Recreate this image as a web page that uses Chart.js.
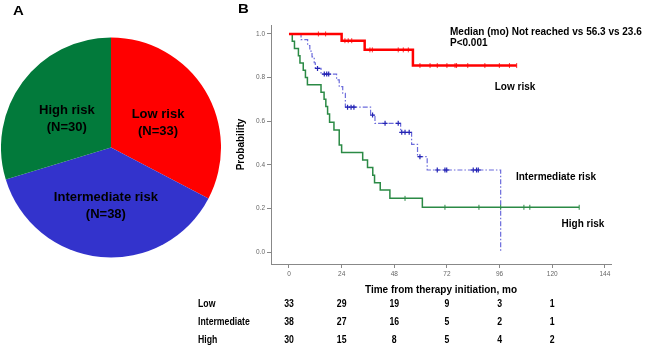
<!DOCTYPE html>
<html>
<head>
<meta charset="utf-8">
<script src="https://cdn.jsdelivr.net/npm/chart.js@4.4.0/dist/chart.umd.min.js"></script>
<style>
  html, body { margin: 0; padding: 0; background: #fff; }
  #wrap { position: relative; width: 650px; height: 349px; overflow: hidden; }
  #km { position: absolute; left: 0; top: 0; }
  #pie { position: absolute; left: 1px; top: 37px; }
</style>
</head>
<body>
<div id="wrap">
  <canvas id="km" width="650" height="349"></canvas>
  <canvas id="pie" width="220" height="221"></canvas>
</div>
<script>
// panel A
const groups = ['Low risk', 'Intermediate risk', 'High risk'];
const groupN = [33, 38, 30];
const pieColors = ['#FF0000', '#3333CC', '#027A3B'];

// panel B - Kaplan-Meier steps (time in months, survival)
const lowTimes = [0, 24, 34.5, 56.5, 103.8];
const lowSurv = [1, 0.969, 0.927, 0.855, 0.855];
const lowCensored = [13.4, 16.7, 25.5, 27, 28.6, 36.9, 38, 49.8, 52.1, 54.4, 59.7, 64.3, 67.6, 72, 75.7, 76.4, 81.5, 89.3, 95.9, 100.5, 103.8];

const midTimes = [0, 5.5, 8.5, 9.5, 10.5, 11.5, 12, 14.6, 21.7, 22.9, 24.5, 25.7, 37.2, 39.2, 50.9, 55.9, 58.6, 63, 96.5];
const midSurv = [1, 0.974, 0.947, 0.921, 0.895, 0.868, 0.842, 0.816, 0.789, 0.758, 0.728, 0.664, 0.628, 0.59, 0.549, 0.494, 0.437, 0.376, 0];
const midCensored = [13, 16.1, 17.2, 18.1, 26.7, 28.3, 29.6, 38.1, 43.8, 49.8, 51.4, 52.9, 54.8, 59.7, 67.6, 71.1, 71.9, 84, 85.5, 86.3];

const highTimes = [0, 1.5, 2.5, 4.3, 5, 6.5, 7.5, 8.4, 14.6, 16, 16.8, 17.6, 18.5, 20.5, 22.9, 24, 33.6, 35.8, 38.2, 39, 41.6, 46, 60.8, 132.3];
const highSurv = [1, 0.967, 0.933, 0.9, 0.867, 0.833, 0.8, 0.767, 0.733, 0.7, 0.667, 0.633, 0.595, 0.56, 0.491, 0.456, 0.422, 0.387, 0.352, 0.318, 0.284, 0.246, 0.205, 0.205];
const highCensored = [52.9, 71.1, 86.6, 96.5, 107.1, 109.8, 132.3];

const xTicks = [0, 24, 48, 72, 96, 120, 144];
const yTicks = [0, 0.2, 0.4, 0.6, 0.8, 1.0];

// numbers at risk
const riskTimes = [0, 24, 48, 72, 96, 120];
const riskLabels = ['Low', 'Intermediate', 'High'];
const riskLow = [33, 29, 19, 9, 3, 1];
const riskMid = [38, 27, 16, 5, 2, 1];
const riskHigh = [30, 15, 8, 5, 4, 2];

const FONT = 'Arial, "Liberation Sans", sans-serif';

const steps = (times, surv) => times.map((t, i) => ({ x: t, y: surv[i] }));
// censored marks sit on the curve
const survAt = (times, surv, t) => {
  let s = surv[0];
  times.forEach((tt, i) => { if (tt <= t) s = surv[i]; });
  return s;
};
const marks = (cens, times, surv) => cens.map(t => ({ x: t, y: survAt(times, surv, t) }));

function txt(ctx, s, x, y, font, align, sx) {
  ctx.save();
  ctx.font = font;
  ctx.fillStyle = '#000';
  ctx.textAlign = align || 'left';
  ctx.textBaseline = 'middle';
  ctx.translate(x, y);
  ctx.scale(sx || 1, 1);
  ctx.fillText(s, 0, 0);
  ctx.restore();
}

const kmText = {
  id: 'kmText',
  afterDraw(chart) {
    const ctx = chart.ctx;
    const xs = chart.scales.x;
    txt(ctx, 'A', 13, 11, 'bold 13px ' + FONT, 'left', 1.15);
    txt(ctx, 'B', 238, 9, 'bold 13px ' + FONT, 'left', 1.15);
    txt(ctx, 'Median (mo) Not reached vs 56.3 vs 23.6', 450, 32, 'bold 10px ' + FONT);
    txt(ctx, 'P<0.001', 450, 43.5, 'bold 10px ' + FONT);
    txt(ctx, 'Low risk', 515, 87, 'bold 10px ' + FONT, 'center');
    txt(ctx, 'Intermediate risk', 556, 177, 'bold 10px ' + FONT, 'center');
    txt(ctx, 'High risk', 583, 224, 'bold 10px ' + FONT, 'center');
    const rows = [riskLow, riskMid, riskHigh];
    const rowY = [304, 322, 340];
    rows.forEach((row, r) => {
      txt(ctx, riskLabels[r], 198, rowY[r], 'bold 10px ' + FONT, 'left', 0.87);
      row.forEach((n, i) => {
        txt(ctx, String(n), xs.getPixelForValue(riskTimes[i]), rowY[r], 'bold 10px ' + FONT, 'center', 0.87);
      });
    });
  }
};

new Chart(document.getElementById('km'), {
  type: 'line',
  data: {
    datasets: [
      {
        data: steps(lowTimes, lowSurv),
        stepped: true,
        borderColor: '#FF0000',
        borderWidth: 2.5,
        pointRadius: 0
      },
      {
        data: marks(lowCensored, lowTimes, lowSurv),
        showLine: false,
        pointStyle: 'line',
        rotation: 90,
        pointRadius: 2.5,
        borderColor: '#FF3030',
        borderWidth: 1
      },
      {
        data: steps(highTimes, highSurv),
        stepped: true,
        borderColor: '#2B8A45',
        borderWidth: 1.5,
        pointRadius: 0
      },
      {
        data: marks(highCensored, highTimes, highSurv),
        showLine: false,
        pointStyle: 'line',
        rotation: 90,
        pointRadius: 2.5,
        borderColor: '#2B8A45',
        borderWidth: 1
      },
      {
        data: marks(midCensored, midTimes, midSurv),
        showLine: false,
        pointStyle: 'cross',
        pointRadius: 2.5,
        borderColor: '#2525B5',
        borderWidth: 1.2
      },
      {
        data: steps(midTimes, midSurv),
        stepped: true,
        borderColor: '#6B6BDB',
        borderWidth: 1.2,
        borderDash: [5, 2, 1.5, 2],
        pointRadius: 0
      }
    ]
  },
  options: {
    responsive: false,
    animation: false,
    events: [],
    layout: { padding: { left: 235, top: 25, right: 39, bottom: 53 } },
    plugins: { legend: { display: false }, tooltip: { enabled: false } },
    scales: {
      x: {
        type: 'linear',
        min: -8.2,
        max: 146.8,
        afterBuildTicks: s => { s.ticks = xTicks.map(v => ({ value: v })); },
        afterFit: s => { s.height = 32; },
        ticks: { font: { size: 6.5, family: FONT }, color: '#666', padding: 2, maxRotation: 0, autoSkip: false },
        grid: { drawOnChartArea: false, drawTicks: true, tickLength: 4, color: '#888' },
        border: { display: true, color: '#888', width: 1 },
        title: {
          display: true,
          text: 'Time from therapy initiation, mo',
          font: { size: 10, weight: 'bold', family: FONT },
          color: '#000',
          padding: { top: 2, bottom: 0 }
        }
      },
      y: {
        min: -0.055,
        max: 1.041,
        afterBuildTicks: s => { s.ticks = yTicks.map(v => ({ value: v })); },
        afterFit: s => { s.width = 36; },
        ticks: { font: { size: 6.5, family: FONT }, color: '#666', padding: 2, callback: v => v.toFixed(1) },
        grid: { drawOnChartArea: false, drawTicks: true, tickLength: 4, color: '#888' },
        border: { display: true, color: '#888', width: 1 },
        title: {
          display: true,
          text: 'Probability',
          font: { size: 10, weight: 'bold', family: FONT },
          color: '#000',
          padding: 0
        }
      }
    }
  },
  plugins: [kmText]
});

const pieText = {
  id: 'pieText',
  afterDraw(chart) {
    const ctx = chart.ctx;
    chart.getDatasetMeta(0).data.forEach((arc, i) => {
      const mid = (arc.startAngle + arc.endAngle) / 2;
      const r = arc.outerRadius * 0.5;
      const x = arc.x + Math.cos(mid) * r;
      const y = arc.y + Math.sin(mid) * r + 4;
      txt(ctx, groups[i], x, y - 8.5, 'bold 13px ' + FONT, 'center');
      txt(ctx, '(N=' + groupN[i] + ')', x, y + 8.5, 'bold 13px ' + FONT, 'center');
    });
  }
};

new Chart(document.getElementById('pie'), {
  type: 'pie',
  data: {
    labels: groups,
    datasets: [{ data: groupN, backgroundColor: pieColors, borderWidth: 0 }]
  },
  options: {
    responsive: false,
    animation: false,
    events: [],
    layout: { padding: 0 },
    plugins: { legend: { display: false }, tooltip: { enabled: false } }
  },
  plugins: [pieText]
});
</script>
</body>
</html>
